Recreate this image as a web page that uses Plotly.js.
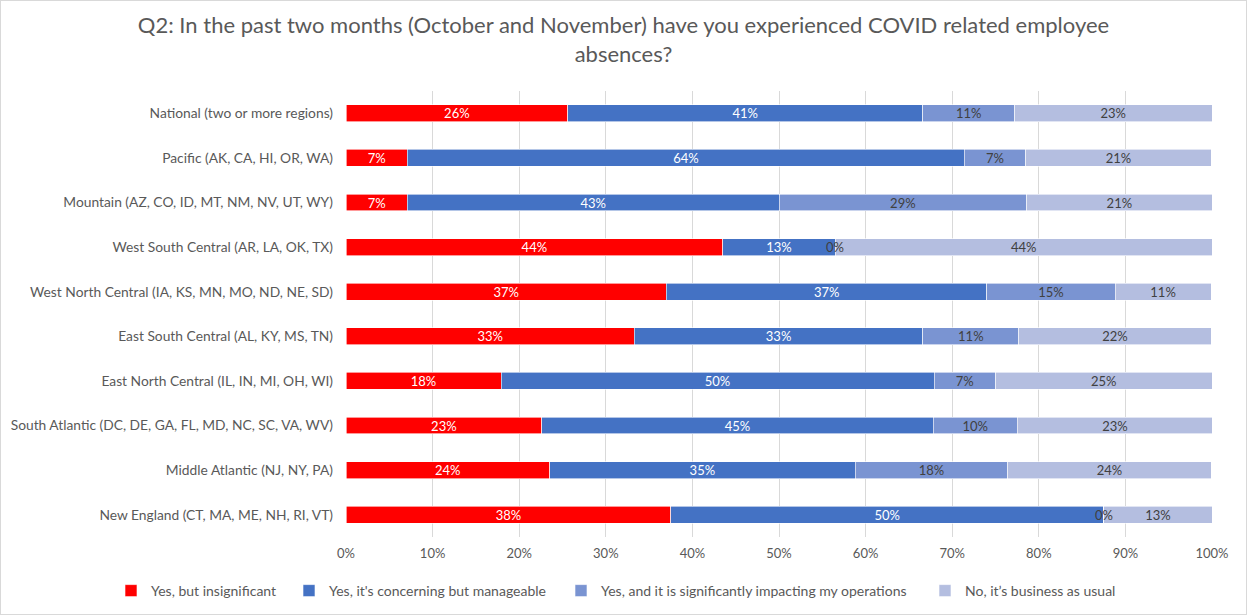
<!DOCTYPE html>
<html>
<head>
<meta charset="utf-8">
<script src="https://cdn.plot.ly/plotly-3.0.1.min.js"></script>
<style>
  html, body { margin: 0; padding: 0; background: #fff; }
  #chart { width: 1245px; height: 613px; border: 1px solid #d9d9d9; }
</style>
</head>
<body>
<div id="chart"></div>
<script>
const categories = [
  "National (two or more regions)",
  "Pacific (AK, CA, HI, OR, WA)",
  "Mountain (AZ, CO, ID, MT, NM, NV, UT, WY)",
  "West South Central (AR, LA, OK, TX)",
  "West North Central (IA, KS, MN, MO, ND, NE, SD)",
  "East South Central (AL, KY, MS, TN)",
  "East North Central (IL, IN, MI, OH, WI)",
  "South Atlantic (DC, DE, GA, FL, MD, NC, SC, VA, WV)",
  "Middle Atlantic (NJ, NY, PA)",
  "New England (CT, MA, ME, NH, RI, VT)"
];
const seriesNames = [
  "Yes, but insignificant",
  "Yes, it's concerning but manageable",
  "Yes, and it is significantly impacting my operations",
  "No, it\u2019s business as usual"
];
const insignificant = [25.6, 7.1, 7.1, 43.5, 37.0, 33.3, 17.9, 22.6, 23.5, 37.5];
const manageable    = [41.0, 64.3, 42.9, 13.0, 37.0, 33.3, 50.0, 45.2, 35.3, 50.0];
const impacting     = [10.6, 7.1, 28.6, 0.0, 14.8, 11.1, 7.1, 9.7, 17.6, 0.0];
const usual         = [22.8, 21.4, 21.4, 43.5, 11.1, 22.2, 25.0, 22.6, 23.5, 12.5];

const series = [insignificant, manageable, impacting, usual];
const colors = ["#FF0000", "#4472C4", "#7A94D2", "#B4BEE0"];
const labelColors = ["#FFFFFF", "#FFFFFF", "#404040", "#404040"];
const FONT = "Lato, 'Open Sans', sans-serif";
const legendIds = ["legend", "legend2", "legend3", "legend4"];
const legendX = [110, 288, 560, 924];

const traces = series.map((vals, i) => ({
  type: "bar",
  orientation: "h",
  name: seriesNames[i],
  legend: legendIds[i],
  y: categories,
  x: vals,
  text: vals.map(v => v > 0 ? Math.round(v) + "%" : ""),
  textposition: "inside",
  insidetextanchor: "middle",
  constraintext: "none",
  textfont: { family: FONT, size: 13, color: labelColors[i] },
  marker: { color: colors[i], line: { color: "rgba(255,255,255,0.8)", width: 0.75 } },
  hoverinfo: "name+x"
}));

// labels for zero-valued segments, placed at their stacked position
const annotations = [];
categories.forEach((c, k) => {
  let cum = 0;
  series.forEach((vals, i) => {
    if (vals[k] === 0) {
      annotations.push({
        x: cum + vals[k] / 2, y: c, xref: "x", yref: "y",
        text: "0%", showarrow: false,
        font: { family: FONT, size: 13, color: labelColors[i] }
      });
    }
    cum += vals[k];
  });
});

const layout = {
  width: 1245, height: 613,
  margin: { l: 345, r: 34, t: 90, b: 77 },
  paper_bgcolor: "#ffffff",
  plot_bgcolor: "#ffffff",
  font: { family: FONT, size: 13, color: "#595959" },
  title: {
    text: "Q2: In the past two months (October and November) have you experienced COVID related employee<br>absences?",
    font: { family: FONT, size: 22, color: "#595959" },
    x: 0.5, xref: "container", xanchor: "center",
    y: 1 - 32 / 613, yref: "container", yanchor: "middle"
  },
  barmode: "stack",
  bargap: 0.62,
  xaxis: {
    range: [0, 100],
    dtick: 10,
    ticksuffix: "%",
    showgrid: true,
    gridcolor: "#d9d9d9",
    gridwidth: 1,
    zeroline: false,
    showline: false,
    ticks: "",
    ticklabelstandoff: 7,
    tickfont: { family: FONT, size: 13, color: "#595959" },
    fixedrange: true
  },
  yaxis: {
    autorange: "reversed",
    showgrid: false,
    zeroline: false,
    showline: false,
    ticks: "",
    ticklabelstandoff: 12,
    tickfont: { family: FONT, size: 13.8, color: "#595959" },
    fixedrange: true
  },
  annotations: annotations,
  showlegend: true
};
legendIds.forEach((id, i) => {
  layout[id] = {
    orientation: "h",
    x: legendX[i] / 1245, xref: "container", xanchor: "left",
    y: 1 - 590 / 613, yref: "container", yanchor: "middle",
    font: { family: FONT, size: 14, color: "#595959" },
    bgcolor: "rgba(0,0,0,0)",
    itemwidth: 30
  };
});

Plotly.newPlot("chart", traces, layout, { displayModeBar: false });
</script>
</body>
</html>
